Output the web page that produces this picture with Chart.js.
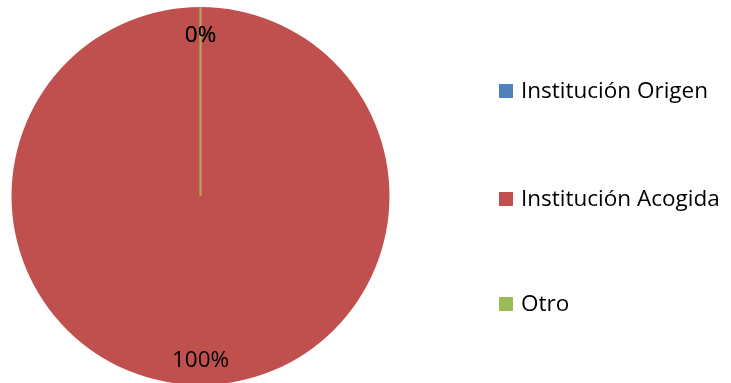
<!DOCTYPE html>
<html>
<head>
<meta charset="utf-8">
<script src="https://cdn.jsdelivr.net/npm/chart.js@4.4.1/dist/chart.umd.min.js"></script>
<style>
  html, body { margin: 0; padding: 0; background: #fff; }
  #wrap { position: relative; width: 731px; height: 383px; overflow: hidden; }
  #pie { position: absolute; left: 0; top: 0; }
  #legend { position: absolute; left: 499px; top: 0; margin: 0; padding: 0; list-style: none;
            font-family: "Open Sans", sans-serif; font-size: 22.5px; color: #000; }
  #legend li { position: absolute; left: 0; white-space: nowrap; height: 28px; line-height: 28px; }
  #legend span.box { display: inline-block; width: 14px; height: 14px; margin-right: 8px; vertical-align: 0px; }
</style>
</head>
<body>
<div id="wrap">
  <canvas id="pie" width="731" height="383"></canvas>
  <ul id="legend"></ul>
</div>
<script>
const labels = ['Institución Origen', 'Institución Acogida', 'Otro'];
const values = [0, 100, 0];
const colors = ['#4F81BD', '#C0504D', '#9BBB59'];
const legendRows = [76, 184, 289];

const total = values.reduce((a, b) => a + b, 0);

// zero-width slices still show as a thin edge from the centre
const zeroSliceEdge = {
  id: 'zeroSliceEdge',
  afterDatasetsDraw(chart) {
    const { ctx } = chart;
    const meta = chart.getDatasetMeta(0);
    meta.data.forEach((arc, i) => {
      if (values[i] !== 0 || i === 0) return;
      const a = arc.startAngle;
      ctx.save();
      ctx.strokeStyle = '#B4955A';
      ctx.lineWidth = 2.5;
      ctx.beginPath();
      ctx.moveTo(arc.x, arc.y);
      ctx.lineTo(arc.x + Math.cos(a) * arc.outerRadius, arc.y + Math.sin(a) * arc.outerRadius);
      ctx.stroke();
      ctx.strokeStyle = 'rgba(155,187,89,0.6)';
      ctx.lineWidth = 1;
      ctx.stroke();
      ctx.restore();
    });
  }
};

// percentage labels inside the pie, one per position
const pctLabels = {
  id: 'pctLabels',
  afterDatasetsDraw(chart) {
    const { ctx } = chart;
    const meta = chart.getDatasetMeta(0);
    const seen = new Set();
    ctx.save();
    ctx.font = '22.5px "Open Sans", sans-serif';
    ctx.fillStyle = '#000';
    ctx.textAlign = 'center';
    ctx.textBaseline = 'middle';
    meta.data.forEach((arc, i) => {
      const mid = (arc.startAngle + arc.endAngle) / 2;
      const r = arc.outerRadius * 0.86;
      const x = arc.x + Math.cos(mid) * r;
      const y = arc.y + Math.sin(mid) * r + 2;
      const key = Math.round(x) + ',' + Math.round(y);
      if (seen.has(key)) return;
      seen.add(key);
      ctx.fillText(Math.round(values[i] / total * 100) + '%', x, y);
    });
    ctx.restore();
  }
};

const chart = new Chart(document.getElementById('pie').getContext('2d'), {
  type: 'pie',
  data: {
    labels: labels,
    datasets: [{
      data: values,
      backgroundColor: colors,
      borderWidth: 0,
      radius: 189,
      clip: false
    }]
  },
  options: {
    responsive: false,
    animation: false,
    layout: { padding: { left: 0, right: 330, top: 9, bottom: 0 } },
    plugins: {
      legend: { display: false },
      tooltip: { enabled: false }
    }
  },
  plugins: [zeroSliceEdge, pctLabels]
});

const legend = document.getElementById('legend');
labels.forEach((label, i) => {
  const li = document.createElement('li');
  li.style.top = legendRows[i] + 'px';
  li.innerHTML = '<span class="box" style="background:' + colors[i] + '"></span>' + label;
  legend.appendChild(li);
});
</script>
</body>
</html>
